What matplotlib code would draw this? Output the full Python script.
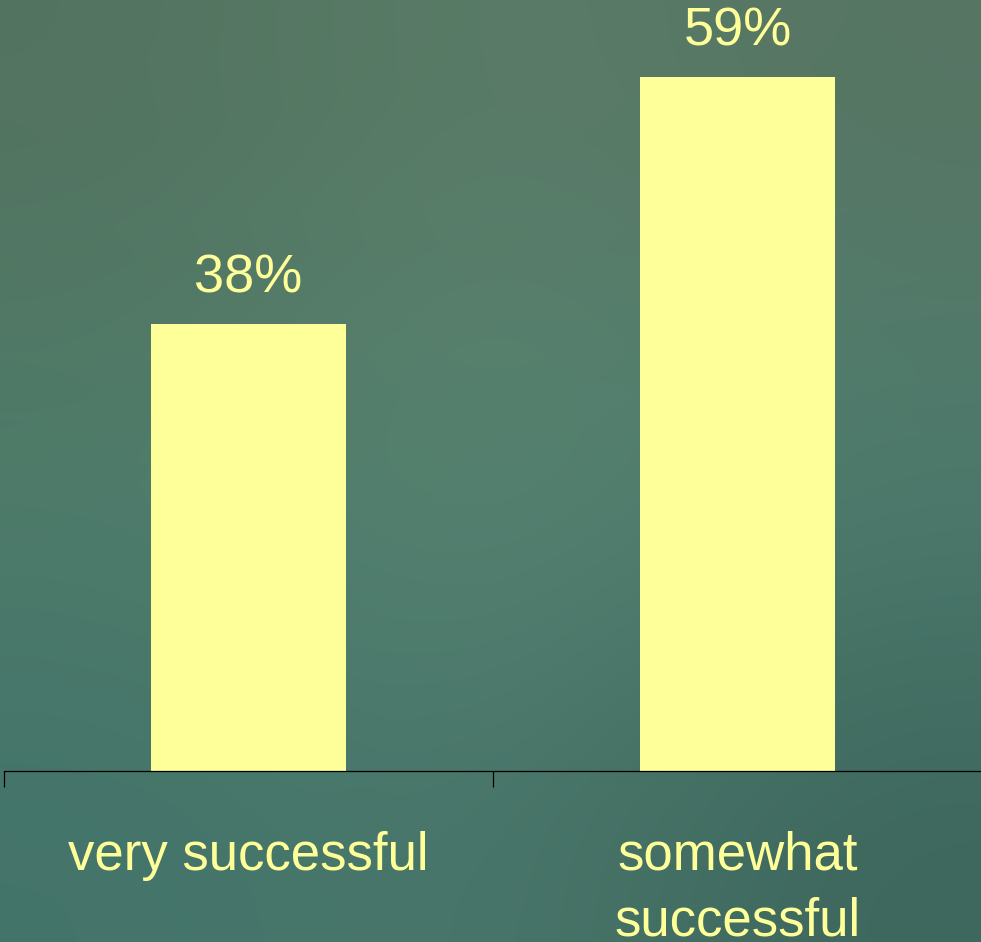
import numpy as np
import matplotlib.pyplot as plt
from matplotlib.colors import to_rgb

categories = ["very successful", "somewhat\nsuccessful"]
values = [38, 59]
value_labels = ["38%", "59%"]

BAR = "#FFFF99"
TXT = "#FFFF99"

# chalkboard-ish background shading (corner / centre colours)
bg_colors = [["#52735f", "#5a7d68", "#577563"],
             ["#4f7d6b", "#5a8774", "#4d7e70"],
             ["#43746a", "#4a776b", "#3d665c"]]

W, H = 981, 942
fig = plt.figure(figsize=(W / 100, H / 100), dpi=100)

bg = fig.add_axes([0, 0, 1, 1])
img = np.array([[to_rgb(c) for c in row] for row in bg_colors])
bg.imshow(img, aspect="auto", interpolation="bicubic", extent=[0, 1, 0, 1])
bg.set_axis_off()

# axis baseline at y=771px, x from 4px to 982px
base_px = 771
ax = fig.add_axes([4 / W, (H - base_px) / H, 978 / W, base_px / H])
ax.patch.set_alpha(0)
x = np.arange(len(categories))
bars = ax.bar(x, values, width=0.4, color=BAR, zorder=2)
ax.set_xlim(-0.5, 1.5)
ax.set_ylim(0, base_px / (447 / 38))

for s in ["top", "right", "left"]:
    ax.spines[s].set_visible(False)
ax.spines["bottom"].set_color("black")
ax.spines["bottom"].set_linewidth(0.9)
ax.set_yticks([])
ax.set_xticks([-0.5, 0.5, 1.5])
ax.set_xticklabels([])
ax.tick_params(axis="x", direction="out", length=11.5, width=0.9, color="black")

for b, lab in zip(bars, value_labels):
    ax.annotate(lab, (b.get_x() + b.get_width() / 2, b.get_height()),
                xytext=(0, 22.5), textcoords="offset points",
                ha="center", va="baseline", color=TXT, fontsize=39,
                family="Liberation Sans")

# category labels: first baseline 99px below the axis, 66px per line
for xi, cat in zip(x, categories):
    for i, line in enumerate(cat.split("\n")):
        y_px = 870 + 66 * i
        ax.text(xi, -(y_px - base_px) / base_px, line,
                transform=ax.get_xaxis_transform(),
                ha="center", va="baseline", color=TXT, fontsize=38,
                family="Liberation Sans", clip_on=False)

fig.savefig("out.png", dpi=100)
